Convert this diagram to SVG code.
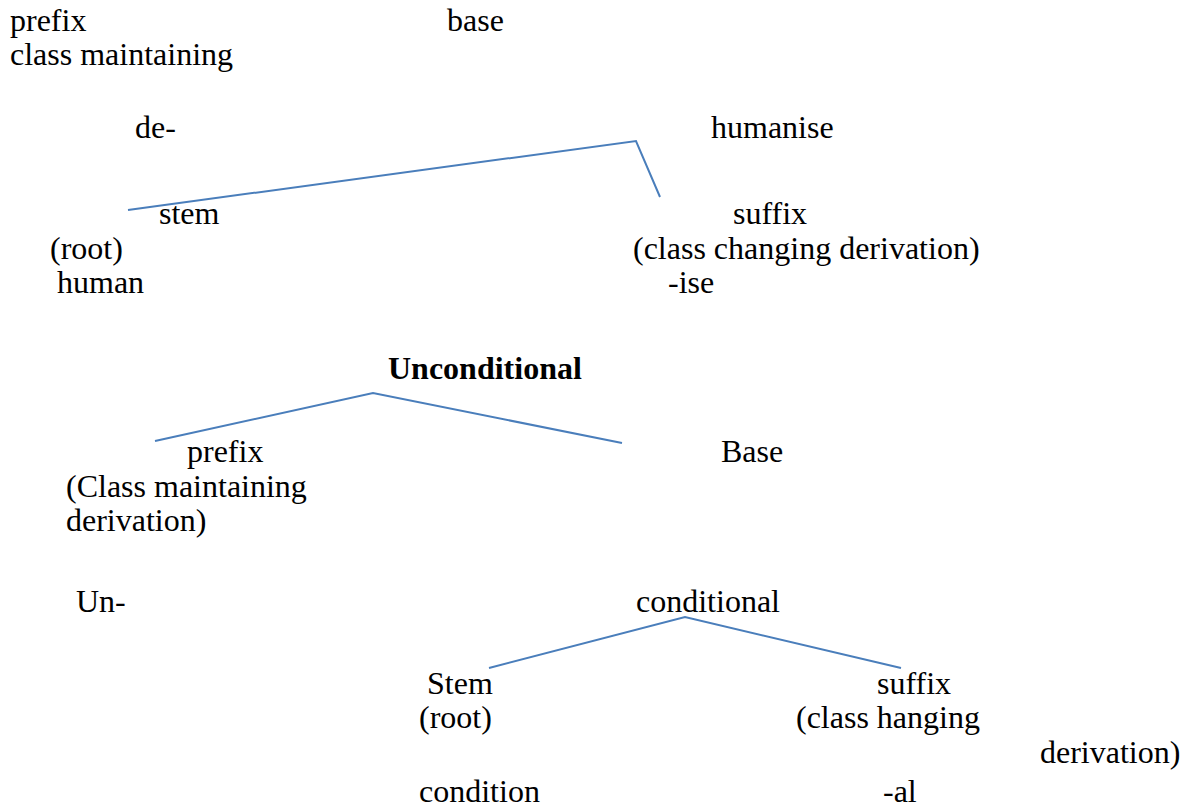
<svg xmlns="http://www.w3.org/2000/svg" width="1200" height="809" viewBox="0 0 1200 809">
<style>
text{font-family:"Liberation Serif","Times New Roman",serif;font-size:32px;fill:#000}
.b{font-weight:bold}
.c{fill:none;stroke:#4a7ebb;stroke-width:2}
</style>
<rect width="1200" height="809" fill="#fff"/>
<g id="connectors">
<polyline class="c" points="128,210 636,141 660,197"/>
<polyline class="c" points="155,441 373,393 622,443"/>
<polyline class="c" points="489,668 685,617 901,668"/>
</g>
<g id="tree1">
<text x="10" y="31">prefix</text>
<text x="447" y="31">base</text>
<text x="10" y="65">class maintaining</text>
<text x="135" y="138">de-</text>
<text x="711" y="138">humanise</text>
<g id="stem1"><text x="159" y="224">stem</text><text x="50" y="259">(root)</text><text x="57" y="293">human</text></g>
<g id="suffix1"><text x="733" y="224">suffix</text><text x="633" y="259">(class changing derivation)</text><text x="668" y="293">-ise</text></g>
</g>
<g id="tree2">
<text class="b" x="388" y="379">Unconditional</text>
<g id="prefix2"><text x="187" y="462">prefix</text><text x="66" y="497">(Class maintaining</text><text x="66" y="531">derivation)</text><text x="76" y="612">Un-</text></g>
<g id="base2"><text x="721" y="462">Base</text><text x="636" y="612">conditional</text></g>
<g id="stem2"><text x="427" y="694">Stem</text><text x="419" y="728">(root)</text><text x="419" y="802">condition</text></g>
<g id="suffix2"><text x="877" y="694">suffix</text><text x="796" y="728">(class hanging</text><text x="1040" y="763">derivation)</text><text x="883" y="802">-al</text></g>
</g>
</svg>
